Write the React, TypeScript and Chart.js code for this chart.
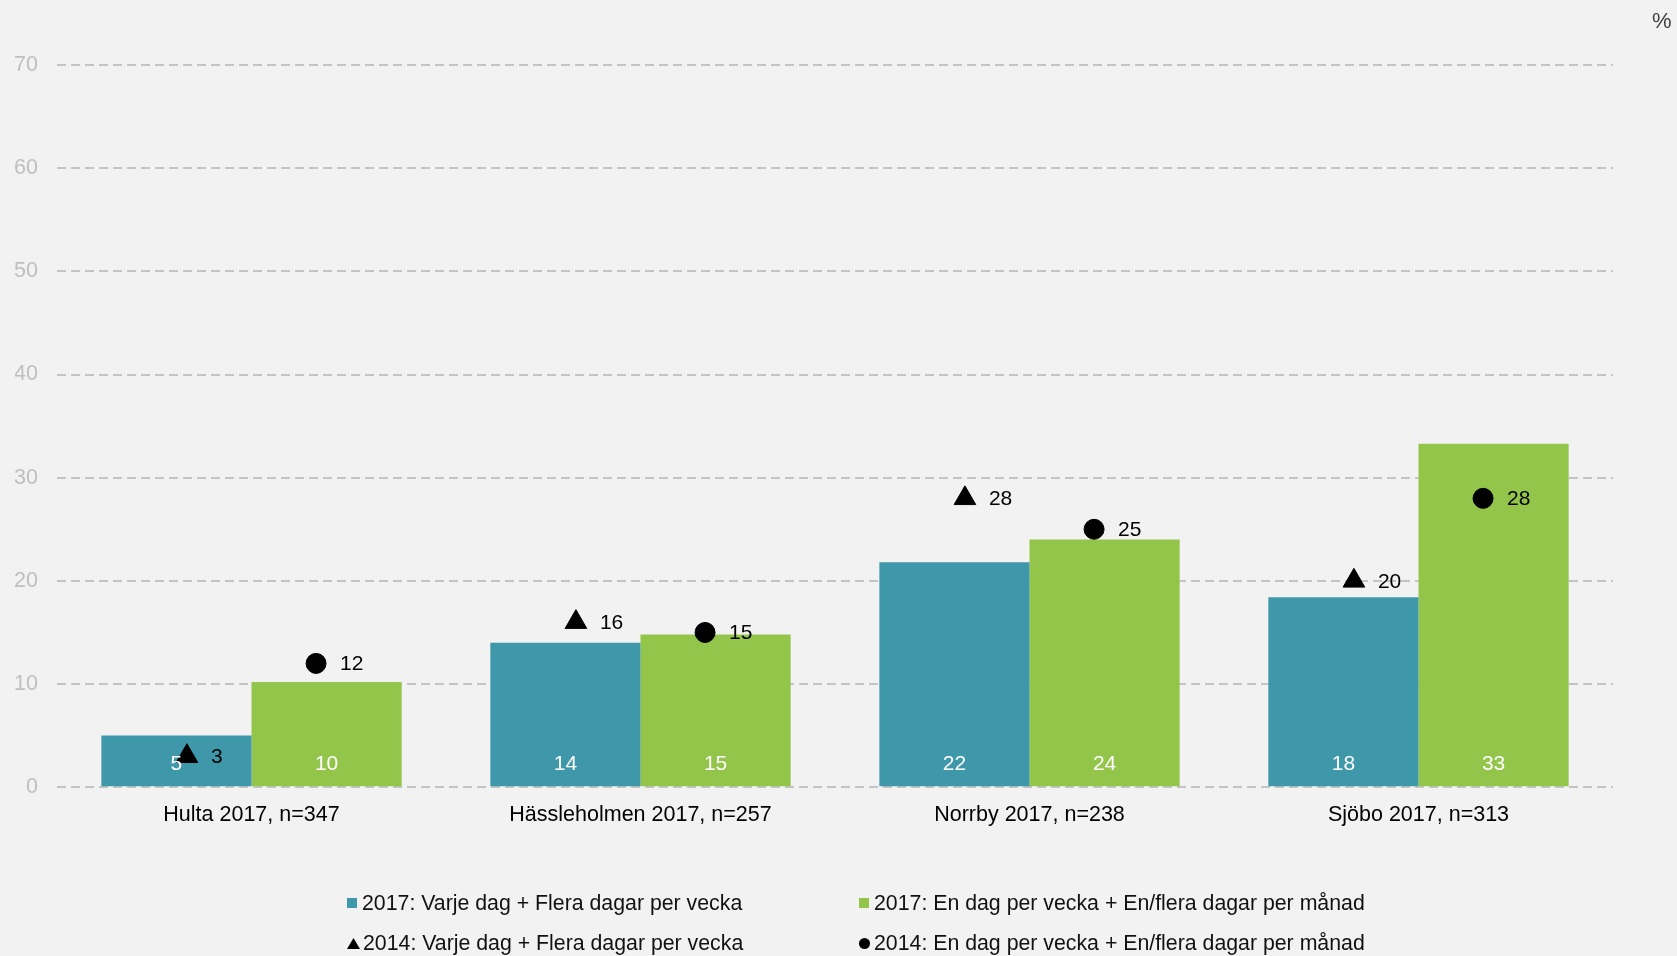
import React, { useEffect, useRef } from "react";
import { Chart, registerables } from "chart.js";

Chart.register(...registerables);

const categories = [
  "Hulta 2017, n=347",
  "Hässleholmen 2017, n=257",
  "Norrby 2017, n=238",
  "Sjöbo 2017, n=313",
];
const daily2017 = [5, 14, 21.8, 18.4];
const monthly2017 = [10.2, 14.8, 24, 33.3];
const daily2014 = [3, 16, 28, 20];
const monthly2014 = [12, 15, 25, 28];
const yTickValues = [0, 10, 20, 30, 40, 50, 60, 70];
const seriesLabels = [
  "2017: Varje dag + Flera dagar per vecka",
  "2017: En dag per vecka + En/flera dagar per månad",
  "2014: Varje dag + Flera dagar per vecka",
  "2014: En dag per vecka + En/flera dagar per månad",
];

const FONT = "'Liberation Sans', Arial, sans-serif";
const TEAL = "#3f98a9";
const GREEN = "#94c54b";
const GROUP_FRACTION = 0.772;
const BAR_CENTER = GROUP_FRACTION / 4;
const NUDGE = 0.027;

const valueLabels = {
  id: "valueLabels",
  afterDatasetsDraw(chart: any) {
    const ctx = chart.ctx;
    const yScale = chart.scales.y;
    ctx.save();
    ctx.font = `21px ${FONT}`;
    ctx.textBaseline = "middle";
    chart.data.datasets.forEach((ds: any, di: number) => {
      const meta = chart.getDatasetMeta(di);
      meta.data.forEach((el: any, i: number) => {
        const raw = ds.data[i];
        const v = typeof raw === "number" ? raw : raw.y;
        const txt = String(Math.round(v));
        if (ds.type === "bar") {
          ctx.fillStyle = "#ffffff";
          ctx.textAlign = "center";
          ctx.fillText(txt, el.x, yScale.getPixelForValue(0) - 23);
        } else {
          ctx.fillStyle = "#000000";
          ctx.textAlign = "left";
          ctx.fillText(txt, el.x + 24, el.y + 1);
        }
      });
    });
    ctx.restore();
  },
};

function LegendMarker({ kind }: { kind: number }) {
  if (kind === 0 || kind === 1) {
    return (
      <span
        style={{
          display: "inline-block",
          width: 10,
          height: 10,
          background: kind === 0 ? TEAL : GREEN,
          marginRight: 5,
        }}
      />
    );
  }
  if (kind === 2) {
    return (
      <svg width="13" height="11" style={{ marginRight: 3 }}>
        <polygon points="6.5,0 13,11 0,11" fill="#000" />
      </svg>
    );
  }
  return (
    <span
      style={{
        display: "inline-block",
        width: 11,
        height: 11,
        borderRadius: "50%",
        background: "#000",
        marginRight: 4,
      }}
    />
  );
}

export default function App() {
  const canvasRef = useRef<HTMLCanvasElement | null>(null);

  useEffect(() => {
    if (!canvasRef.current) return;
    Chart.defaults.font.family = FONT;
    const chart = new Chart(canvasRef.current, {
      type: "bar",
      data: {
        labels: categories,
        datasets: [
          {
            type: "bar",
            label: seriesLabels[0],
            data: daily2017,
            backgroundColor: TEAL,
            categoryPercentage: GROUP_FRACTION,
            barPercentage: 1.0,
            order: 2,
          },
          {
            type: "bar",
            label: seriesLabels[1],
            data: monthly2017,
            backgroundColor: GREEN,
            categoryPercentage: GROUP_FRACTION,
            barPercentage: 1.0,
            order: 2,
          },
          {
            type: "line",
            label: seriesLabels[2],
            parsing: false,
            data: daily2014.map((v, i) => ({ x: i - BAR_CENTER + NUDGE, y: v })),
            showLine: false,
            pointStyle: "triangle",
            pointRadius: 12.5,
            pointBackgroundColor: "#000",
            pointBorderColor: "#000",
            pointBorderWidth: 1,
            order: 1,
          },
          {
            type: "line",
            label: seriesLabels[3],
            parsing: false,
            data: monthly2014.map((v, i) => ({ x: i + BAR_CENTER - NUDGE, y: v })),
            showLine: false,
            pointStyle: "circle",
            pointRadius: 10,
            pointBackgroundColor: "#000",
            pointBorderColor: "#000",
            pointBorderWidth: 1,
            order: 1,
          },
        ] as any,
      },
      options: {
        responsive: false,
        animation: false,
        events: [],
        layout: { padding: { top: 65, left: 15, right: 64, bottom: 113 } },
        plugins: {
          legend: { display: false },
          tooltip: { enabled: false },
          title: { display: false },
        },
        scales: {
          x: {
            type: "category",
            offset: true,
            grid: { display: false, drawTicks: false },
            border: { display: false },
            ticks: { color: "#000", font: { size: 21.5 }, padding: 15 },
          },
          y: {
            min: yTickValues[0],
            max: yTickValues[yTickValues.length - 1],
            afterFit: (scale: any) => {
              scale.width = 42;
            },
            ticks: {
              stepSize: yTickValues[1] - yTickValues[0],
              color: "#bfbfbf",
              font: { size: 21.5 },
              padding: 19,
            },
            grid: {
              color: "#c4c4c4",
              lineWidth: 2,
              drawTicks: false,
            },
            border: { display: false, dash: [9, 5] },
          },
        },
      } as any,
      plugins: [valueLabels],
    });
    return () => chart.destroy();
  }, []);

  const legendCols = [347, 859];
  const legendRows = [903, 943];

  return (
    <div
      style={{
        position: "fixed",
        left: 0,
        top: 0,
        width: 1677,
        height: 956,
        background: "#f2f2f2",
        overflow: "hidden",
        fontFamily: FONT,
      }}
    >
      <canvas ref={canvasRef} width={1677} height={956} style={{ display: "block" }} />
      <span
        style={{
          position: "absolute",
          left: 1652,
          top: 8,
          fontSize: 22,
          color: "#404040",
        }}
      >
        %
      </span>
      {seriesLabels.map((label, k) => (
        <div
          key={label}
          style={{
            position: "absolute",
            left: legendCols[k % 2],
            top: legendRows[Math.floor(k / 2)] - 14,
            height: 28,
            display: "flex",
            alignItems: "center",
            fontSize: 21.3,
            color: "#111",
            whiteSpace: "nowrap",
          }}
        >
          <LegendMarker kind={k} />
          <span>{label}</span>
        </div>
      ))}
    </div>
  );
}
